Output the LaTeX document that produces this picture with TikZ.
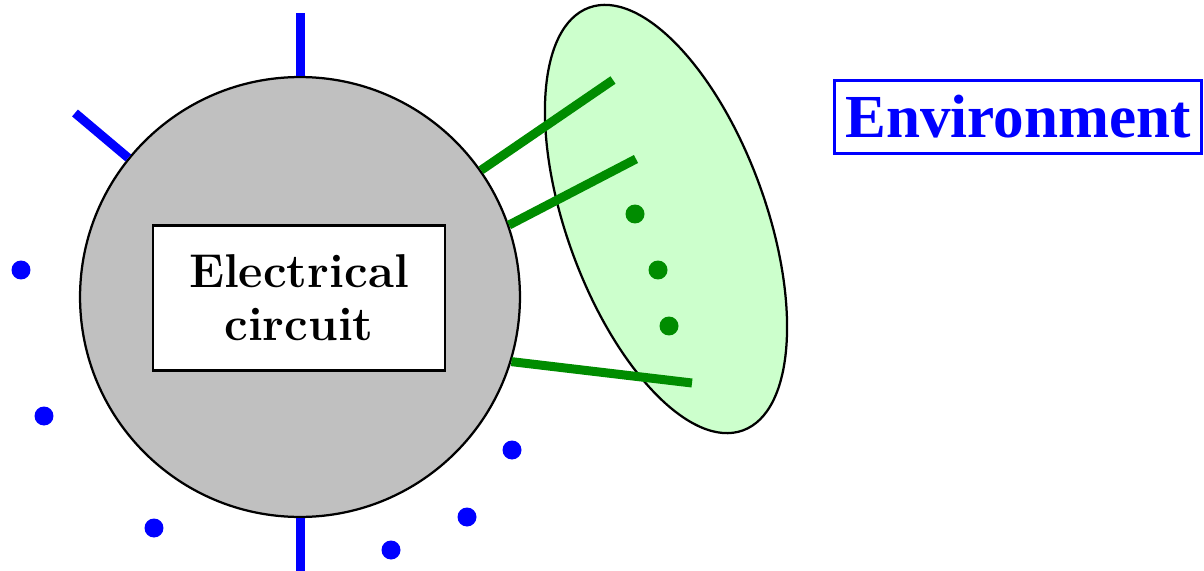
\documentclass[tikz,border=0pt]{standalone}
\usepackage{fontspec}
\newfontfamily\envfont{Liberation Serif}
\usetikzlibrary{shapes.geometric, positioning}
\definecolor{circgray}{RGB}{192,192,192}
\definecolor{wiregreen}{RGB}{0,140,0}
\definecolor{lightgreen}{RGB}{204,255,204}

\begin{document}
\begin{tikzpicture}[x=0.02cm, y=-0.02cm,
    wire/.style={line width=0.18cm},
    bluedot/.style={circle, fill=blue, inner sep=0pt, minimum size=0.38cm},
    greendot/.style={circle, fill=wiregreen, inner sep=0pt, minimum size=0.38cm}]
    \useasboundingbox (0,0) rectangle (1204,571);

    \node[circle, draw, line width=0.045cm, fill=circgray, minimum size=8.8cm, inner sep=0pt] (circ) at (300,297) {};
    \node[ellipse, draw, line width=0.045cm, fill=lightgreen, rotate=-70, minimum width=9cm, minimum height=3.98cm, inner sep=0pt] (env) at (666,219) {};
    \node[draw, fill=white, line width=0.045cm, minimum width=5.84cm, minimum height=2.9cm, align=center,
          font=\bfseries\fontsize{27}{30}\selectfont] (box) at (299,298) {Electrical\\circuit};
    \node[draw=blue, text=blue, line width=0.06cm, minimum width=7.34cm, minimum height=1.46cm,
          font=\envfont\bfseries\fontsize{34.8}{40}\selectfont] (envlabel) at (1018,117) {Environment};

    \coordinate (topend) at (300,13);
    \coordinate (botend) at (300,571);
    \coordinate (leftend) at (75,113);
    \coordinate (g1) at (613,80);
    \coordinate (g2) at (636,159);
    \coordinate (g3) at (692,383);

    \draw[wire, blue] (circ.north) -- (topend);
    \draw[wire, blue] (circ.south) -- (botend);
    \draw[wire, blue] (circ.141) -- (leftend);
    \draw[wire, wiregreen] (circ.35) -- (g1);
    \draw[wire, wiregreen] (circ.19) -- (g2);
    \draw[wire, wiregreen] (circ.-17) -- (g3);

    \node[greendot] (d1) at (635,214) {};
    \node[greendot] (d2) at (658,270) {};
    \node[greendot] (d3) at (669,326) {};

    \node[bluedot] (b1) at (21,270) {};
    \node[bluedot] (b2) at (44,416) {};
    \node[bluedot] (b3) at (154,528) {};
    \node[bluedot] (b4) at (391,550) {};
    \node[bluedot] (b5) at (467,517) {};
    \node[bluedot] (b6) at (512,450) {};
\end{tikzpicture}
\end{document}
